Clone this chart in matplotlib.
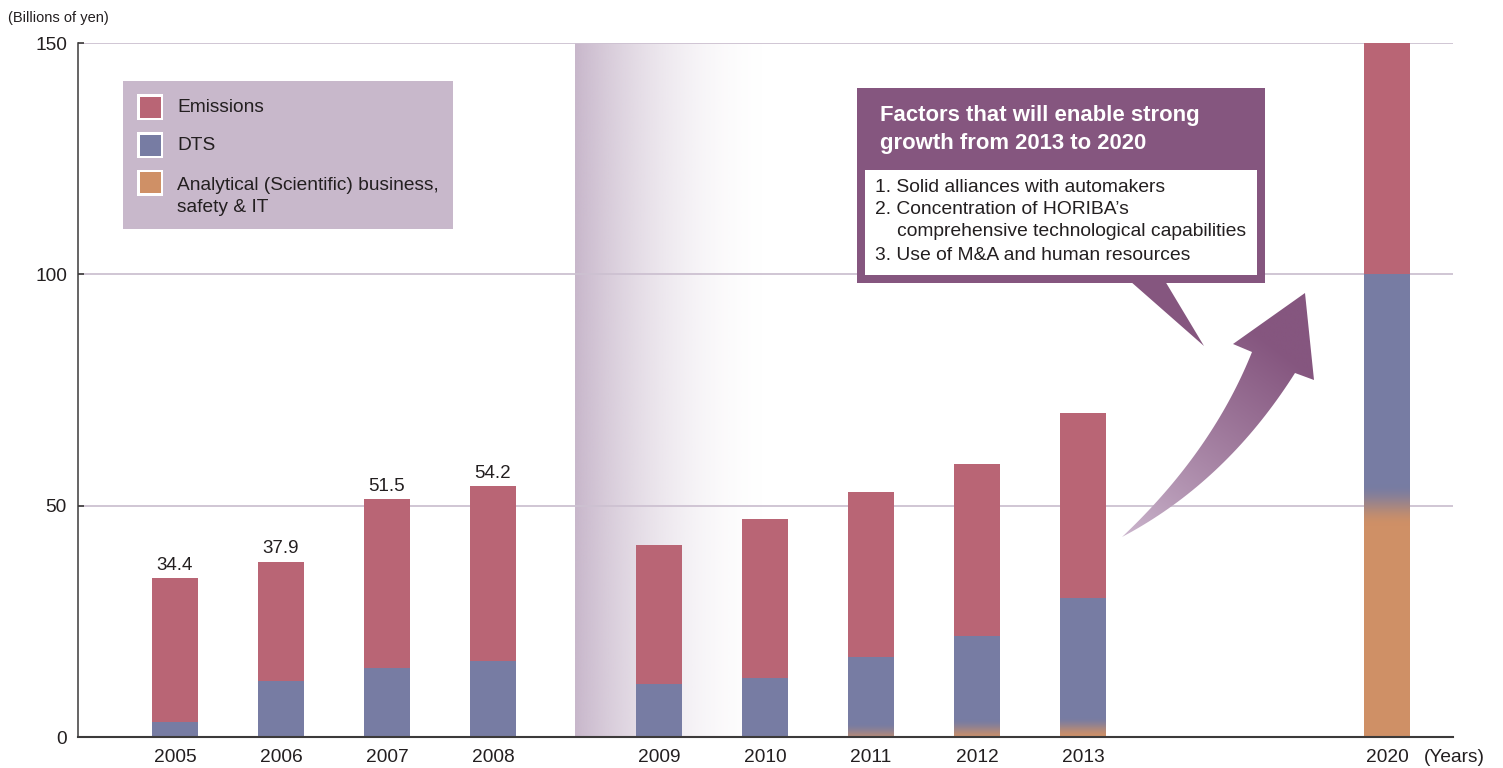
import numpy as np
import matplotlib
matplotlib.use("Agg")
import matplotlib.pyplot as plt
from matplotlib.patches import Rectangle, Polygon, PathPatch
from matplotlib.path import Path
from matplotlib.colors import to_rgb
from matplotlib import font_manager

# ---- data (billions of yen) ----
years = ["2005", "2006", "2007", "2008", "2009", "2010", "2011", "2012", "2013", "2020"]
totals = [34.4, 37.9, 51.5, 54.2, 41.5, 47.1, 53.0, 59.0, 70.0, 150.0]
dts = [3.3, 12.0, 15.0, 16.4, 11.5, 12.8, 16.6, 20.3, 28.0, 50.0]
analytical = [0.0, 0.0, 0.0, 0.0, 0.0, 0.0, 0.7, 1.5, 2.0, 50.0]
labelled_years = ["2005", "2006", "2007", "2008"]
yticks = [0, 50, 100, 150]

series_names = ["Emissions", "DTS", "Analytical (Scientific) business,\nsafety & IT"]
factors = [
    "1. Solid alliances with automakers",
    "2. Concentration of HORIBA\u2019s",
    "comprehensive technological capabilities",
    "3. Use of M&A and human resources",
]

emissions = [t - d - a for t, d, a in zip(totals, dts, analytical)]

# ---- style ----
C_EMI = "#b96575"
C_DTS = "#777ca3"
C_ANA = "#cf9066"
C_BAND = "#c8b7cb"
C_LEG = "#c8b8cb"
C_PURPLE = "#85567f"
C_GRID = "#cdc1d1"
C_TEXT = "#231f20"
C_AXIS = "#3c3a3a"

fonts = {f.name for f in font_manager.fontManager.ttflist}
FONT = "Liberation Sans" if "Liberation Sans" in fonts else "DejaVu Sans"
NARROW = "Liberation Sans Narrow" if "Liberation Sans Narrow" in fonts else FONT
plt.rcParams["font.family"] = [FONT, "DejaVu Sans"]

W, H = 1503, 768
fig = plt.figure(figsize=(W / 100, H / 100), dpi=100)
ax = fig.add_axes([78 / W, 1 - 737 / H, (1453 - 78) / W, (737 - 43) / H])

# bar layout: two groups of yearly bars plus the 2020 target
xpos = np.array([0.915 + i for i in range(4)] + [5.48 + i for i in range(5)] + [12.35])
bw = 0.44
px = 1 / 106  # one pixel in x data units
ax.set_xlim(0, (1453 - 78) / 106)
ax.set_ylim(0, 150)

# shaded band separating the two periods
band_x0, band_x1 = 4.69, 6.55
n = 300
t = np.linspace(0, 1, n)
alpha = (1 - t) ** 1.9
band = np.zeros((2, n, 4))
band[..., :3] = to_rgb(C_BAND)
band[..., 3] = alpha
ax.imshow(band, extent=[band_x0, band_x1, 0, 150], aspect="auto",
          interpolation="bilinear", zorder=0.5, origin="lower")

# gridlines
for yv in yticks[1:]:
    ax.axhline(yv, color=C_GRID, lw=1.3, zorder=1)

# stacked bars
ax.bar(xpos, analytical, bw, color=C_ANA, zorder=2, lw=0)
ax.bar(xpos, dts, bw, bottom=analytical, color=C_DTS, zorder=2, lw=0)
ax.bar(xpos, emissions, bw, bottom=np.add(analytical, dts), color=C_EMI, zorder=2, lw=0)

# soft transition between the analytical and DTS segments
ca, cd = np.array(to_rgb(C_ANA)), np.array(to_rgb(C_DTS))
for x, a in zip(xpos, analytical):
    if a <= 0:
        continue
    h = 4.5 if a > 10 else 2.2
    lo, hi = max(0.0, a - h), a + h
    yy = np.linspace(lo, hi, 200)
    s = np.clip((yy - (a - h)) / (2 * h), 0, 1)
    s = s * s * (3 - 2 * s)
    grad = (1 - s)[:, None] * ca + s[:, None] * cd
    img = np.repeat(grad[:, None, :], 2, axis=1)
    ax.imshow(img, extent=[x - bw / 2 + 0.6 * px, x + bw / 2 - 0.6 * px, lo, hi],
              aspect="auto", origin="lower", interpolation="bilinear", zorder=2.5)

ax.set_xlim(0, (1453 - 78) / 106)
ax.set_ylim(0, 150)

# value labels
for x, yr, tot in zip(xpos, years, totals):
    if yr in labelled_years:
        ax.annotate(f"{tot:.1f}", (x, tot), xytext=(0, 3), textcoords="offset points",
                    ha="center", va="bottom", fontsize=13.5, color=C_TEXT, zorder=4)

# axes styling
for side in ("top", "right"):
    ax.spines[side].set_visible(False)
ax.spines["left"].set_color(C_AXIS)
ax.spines["left"].set_linewidth(1.1)
ax.spines["bottom"].set_color(C_AXIS)
ax.spines["bottom"].set_linewidth(1.5)
ax.spines["bottom"].set_zorder(5)
ax.set_yticks(yticks)
ax.set_yticklabels([str(v) for v in yticks])
ax.set_xticks(xpos)
ax.set_xticklabels(years)
ax.tick_params(axis="y", direction="in", length=4.5, width=1.2, color=C_AXIS,
               pad=8, labelsize=13.8, labelcolor=C_TEXT)
ax.tick_params(axis="x", length=0, pad=9, labelsize=13.8, labelcolor=C_TEXT)
ax.set_facecolor("none")

# ---- overlay in pixel coordinates for the legend, callout and arrow ----
ov = fig.add_axes([0, 0, 1, 1])
ov.set_xlim(0, W)
ov.set_ylim(H, 0)
ov.axis("off")
ov.patch.set_alpha(0)

ov.text(8, 18, "(Billions of yen)", family=[NARROW, "DejaVu Sans"], fontsize=10.5,
        color=C_TEXT, va="center", ha="left")
ov.text(1424, 758, "(Years)", fontsize=13.8, color=C_TEXT, va="center", ha="left")

# legend panel
ov.add_patch(Rectangle((123, 81), 330, 148, facecolor=C_LEG, edgecolor="none"))
leg_rows = [(107, C_EMI), (145, C_DTS), (182.5, C_ANA)]
for (yc, col) in leg_rows:
    ov.add_patch(Rectangle((137, yc - 13), 26, 26, facecolor="white", edgecolor="none"))
    ov.add_patch(Rectangle((139.5, yc - 10.5), 21, 21, facecolor=col, edgecolor="none"))
ov.text(177, 108, series_names[0], fontsize=13.8, color=C_TEXT, va="center")
ov.text(177, 146, series_names[1], fontsize=13.8, color=C_TEXT, va="center")
ana_lines = series_names[2].split("\n")
ov.text(177, 185, ana_lines[0], fontsize=13.8, color=C_TEXT, va="center")
ov.text(177, 207, ana_lines[1], fontsize=13.8, color=C_TEXT, va="center")

# callout box
ov.add_patch(Rectangle((857, 88), 408, 195, facecolor=C_PURPLE, edgecolor="none"))
ov.add_patch(Rectangle((865, 170), 392, 105, facecolor="white", edgecolor="none"))
ov.add_patch(Polygon([(1130, 281), (1165, 281), (1204, 346)], closed=True,
                     facecolor=C_PURPLE, edgecolor="none"))
ov.text(880, 116, "Factors that will enable strong", fontsize=15.9, weight="bold",
        color="white", va="center")
ov.text(880, 144, "growth from 2013 to 2020", fontsize=15.9, weight="bold",
        color="white", va="center")
ov.text(875, 188, factors[0], fontsize=13.9, color=C_TEXT, va="center")
ov.text(875, 210, factors[1], fontsize=13.9, color=C_TEXT, va="center")
ov.text(897, 232, factors[2], fontsize=13.9, color=C_TEXT, va="center")
ov.text(875, 255, factors[3], fontsize=13.9, color=C_TEXT, va="center")


# curved growth arrow with a light-to-dark fill
def qbez(p0, c, p1, m=40):
    s = np.linspace(0, 1, m)[:, None]
    return (1 - s) ** 2 * np.array(p0) + 2 * (1 - s) * s * np.array(c) + s ** 2 * np.array(p1)


tail = (1122, 537)
left_edge = qbez(tail, (1212, 452), (1252, 352))
right_edge = qbez((1295, 373), (1226, 482), tail)
head = np.array([(1233, 344), (1305, 293), (1314, 380)])
pts = np.vstack([left_edge, head, right_edge])
arrow_path = Path(pts, closed=False)
clip = PathPatch(arrow_path, facecolor="none", edgecolor="none")
ov.add_patch(clip)

x0, x1, y0, y1 = 1110, 1320, 285, 545
gx, gy = np.meshgrid(np.linspace(x0, x1, 260), np.linspace(y0, y1, 320))
d = np.array([1305 - tail[0], 293 - tail[1]], dtype=float)
proj = ((gx - tail[0]) * d[0] + (gy - tail[1]) * d[1]) / (d @ d)
s = np.clip(proj / 0.8, 0, 1) ** 0.85
light = np.array(to_rgb("#cdb8cf"))
dark = np.array(to_rgb(C_PURPLE))
img = (1 - s)[..., None] * light + s[..., None] * dark
im = ov.imshow(img, extent=[x0, x1, y1, y0], origin="upper", aspect="auto",
               interpolation="bilinear", zorder=3)
im.set_clip_path(clip)
ov.set_xlim(0, W)
ov.set_ylim(H, 0)

fig.savefig("out.png", dpi=100)
